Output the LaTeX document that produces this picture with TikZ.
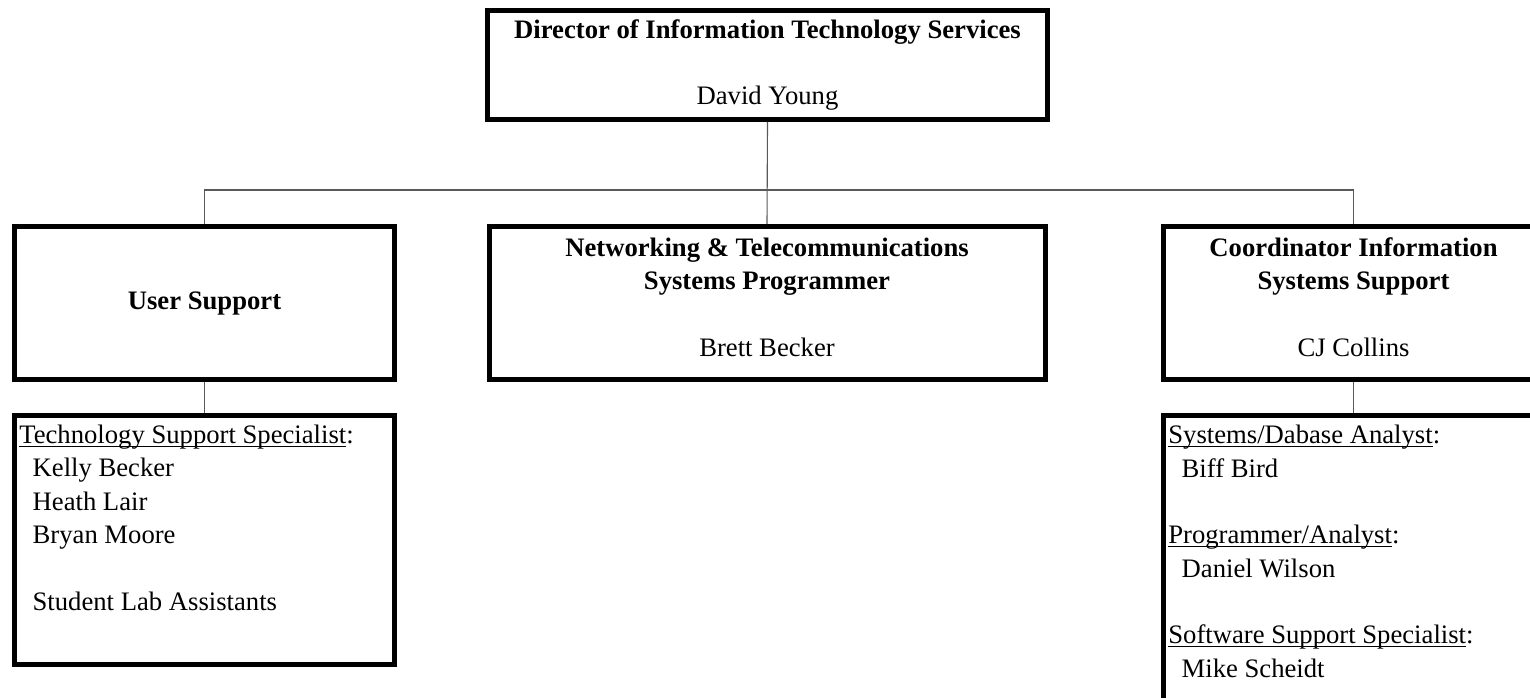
\documentclass[tikz,border=0pt]{standalone}
\usepackage{fontspec}
\setmainfont{Liberation Serif}
\newsavebox\ulbox
\newcommand\uln[1]{\sbox\ulbox{#1}\rlap{\rule[-1.5pt]{\wd\ulbox}{0.6pt}}\usebox\ulbox}
\newcommand\ind{\hspace*{0.5em}}
\newcommand\lift{\rule[-5.4pt]{0pt}{0pt}}

\begin{document}
\begin{tikzpicture}[x=0.45pt,y=-0.45pt,
		font=\fontsize{12}{15}\selectfont,
		post/.style={draw, line width=2.25pt, align=center, inner sep=0pt},
		staff/.style={align=left, inner sep=0pt, anchor=north west},
		link/.style={draw=black!65, line width=0.5pt}]
				\clip (0,0) rectangle (1530,697);
				
				\node[post, minimum width=252pt, minimum height=49pt] (director) at (767.5,65)
					{\textbf{Director of Information Technology Services}\\[15pt]David Young};
				
				\node[post, minimum width=171pt, minimum height=68.85pt] (user) at (204.5,303)
					{\textbf{User Support}};
				\node[post, minimum width=250.2pt, minimum height=68.85pt] (net) at (767,303)
					{\textbf{Networking \& Telecommunications}\\\textbf{Systems Programmer}\\[15pt]Brett Becker\lift};
				\node[post, minimum width=171pt, minimum height=68.85pt] (coord) at (1353.5,303)
					{\textbf{Coordinator Information}\\\textbf{Systems Support}\\[15pt]CJ Collins\lift};
				
				\node[post, minimum width=171pt, minimum height=112pt] (techbox) at (204.5,540) {};
				\node[staff] (techstaff) at ([xshift=3.1pt,yshift=-5.2pt]techbox.north west)
					{\uln{Technology Support Specialist}:\\\ind Kelly Becker\\\ind Heath Lair\\\ind Bryan Moore\\[15pt]\ind Student Lab Assistants};
				
				\node[post, minimum width=171pt, minimum height=146pt] (sysbox) at (1353.5,578) {};
				\node[staff] (sysstaff) at ([xshift=3.1pt,yshift=-5.2pt]sysbox.north west)
					{\uln{Systems/Dabase Analyst}:\\\ind Biff Bird\\[15pt]\uln{Programmer/Analyst}:\\\ind Daniel Wilson\\[15pt]\uln{Software Support Specialist}:\\\ind Mike Scheidt};
				
				\coordinate (bus) at (767.5,190);
				\draw[link] (director.south) -- (net.north);
				\draw[link] (bus) -| (user.north);
				\draw[link] (bus) -| (coord.north);
				\draw[link] (user.south) -- (techbox.north);
				\draw[link] (coord.south) -- (sysbox.north);
			\end{tikzpicture}
\end{document}
